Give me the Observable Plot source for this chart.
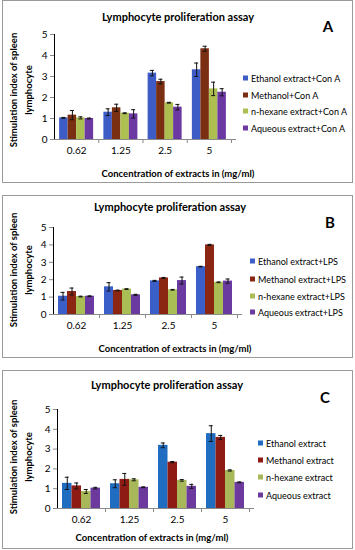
<!DOCTYPE html>
<html>
<head>
<meta charset="utf-8">
<script src="https://cdn.jsdelivr.net/npm/d3@7"></script>
<script src="https://cdn.jsdelivr.net/npm/@observablehq/plot@0.6"></script>
<style>
  html, body { margin: 0; padding: 0; background: #fff; }
  #page { position: relative; width: 355px; height: 550px; overflow: hidden; font-family: Lato, "Open Sans", sans-serif; }
  .panel { position: absolute; border: 1px solid #9a9a9a; box-sizing: border-box; }
  .abs { position: absolute; white-space: nowrap; color: #000; }
  .title { font-weight: bold; font-size: 11px; transform: translate(-50%, -50%); }
  .letter { font-weight: bold; font-size: 15px; transform: translate(-50%, -50%); }
  .xlab { font-weight: bold; font-size: 9.5px; transform: translate(-50%, -50%); }
  .ylab { font-weight: bold; font-size: 9.5px; line-height: 15px; text-align: center; transform: translate(-50%, -50%) rotate(-90deg); }
  .leg { font-size: 9px; transform: translateY(-50%); display: flex; align-items: center; }
  .sw { display: inline-block; width: 5px; height: 5px; margin-right: 3px; }
  svg { position: absolute; overflow: visible; }
</style>
</head>
<body>
<div id="page"></div>
<script>
const concentrations = ["0.62", "1.25", "2.5", "5"];

// Panel A (Con A)
const seriesA = ["Ethanol extract+Con A", "Methanol+Con A", "n-hexane extract+Con A", "Aqueous extract+Con A"];
const aEthanol = [1.03, 1.30, 3.16, 3.32];
const aEthanolErr = [0.02, 0.16, 0.13, 0.32];
const aMethanol = [1.16, 1.51, 2.76, 4.32];
const aMethanolErr = [0.22, 0.17, 0.11, 0.12];
const aHexane = [1.03, 1.25, 1.75, 2.41];
const aHexaneErr = [0.05, 0.02, 0.02, 0.32];
const aAqueous = [1.00, 1.22, 1.54, 2.25];
const aAqueousErr = [0.02, 0.20, 0.13, 0.17];

// Panel B (LPS)
const seriesB = ["Ethanol extract+LPS", "Methanol extract+LPS", "n-hexane extract+LPS", "Aqueous extract+LPS"];
const bEthanol = [1.05, 1.59, 1.93, 2.75];
const bEthanolErr = [0.22, 0.24, 0.03, 0.02];
const bMethanol = [1.32, 1.38, 2.10, 4.00];
const bMethanolErr = [0.20, 0.02, 0.03, 0.03];
const bHexane = [1.03, 1.46, 1.42, 1.85];
const bHexaneErr = [0.02, 0.02, 0.02, 0.02];
const bAqueous = [1.05, 1.13, 1.95, 1.92];
const bAqueousErr = [0.02, 0.03, 0.20, 0.12];

// Panel C (extracts alone)
const seriesC = ["Ethanol extract", "Methanol extract", "n-hexane extract", "Aqueous extract"];
const cEthanol = [1.27, 1.25, 3.19, 3.78];
const cEthanolErr = [0.31, 0.20, 0.12, 0.40];
const cMethanol = [1.14, 1.47, 2.34, 3.59];
const cMethanolErr = [0.15, 0.30, 0.03, 0.10];
const cHexane = [0.86, 1.45, 1.42, 1.92];
const cHexaneErr = [0.10, 0.05, 0.04, 0.03];
const cAqueous = [1.03, 1.07, 1.12, 1.32];
const cAqueousErr = [0.04, 0.02, 0.10, 0.02];

const yTicks = [0, 1, 2, 3, 4, 5];
const titleText = "Lymphocyte proliferation assay";
const xTitle = "Concentration of extracts in (mg/ml)";
const yTitle = ["Stimulation index of spleen", "lymphocyte"];

const page = document.getElementById("page");

function el(cls, text, x, y) {
  const d = document.createElement("div");
  d.className = "abs " + cls;
  d.style.left = x + "px";
  d.style.top = y + "px";
  if (text != null) d.textContent = text;
  page.appendChild(d);
  return d;
}

function panel(cfg) {
  const box = document.createElement("div");
  box.className = "panel";
  Object.assign(box.style, {left: cfg.box[0] + "px", top: cfg.box[1] + "px", width: (cfg.box[2] - cfg.box[0]) + "px", height: (cfg.box[3] - cfg.box[1]) + "px"});
  page.appendChild(box);

  const data = [];
  cfg.values.forEach((vals, i) => vals.forEach((v, j) => data.push({
    series: cfg.series[i], si: i, conc: concentrations[j], value: v, lo: v - cfg.errors[i][j], hi: v + cfg.errors[i][j]
  })));

  const bw = (cfg.xRange[1] - cfg.xRange[0]) / concentrations.length;
  const bar = cfg.barW;
  const gap = (bw - 4 * bar) / 2;
  const marks = [];
  cfg.series.forEach((s, i) => {
    const d = data.filter(r => r.si === i);
    const off = -bw / 2 + gap + (i + 0.5) * bar;
    marks.push(Plot.barY(d, {x: "conc", y: "value", fill: cfg.colors[i], insetLeft: gap + i * bar, insetRight: bw - gap - (i + 1) * bar}));
    marks.push(Plot.ruleX(d, {x: "conc", y1: "lo", y2: "hi", dx: off, stroke: "#111", strokeWidth: 1}));
    marks.push(Plot.tickY(d, {x: "conc", y: "hi", dx: off, insetLeft: bw / 2 - 2, insetRight: bw / 2 - 2, stroke: "#111", strokeWidth: 1}));
    marks.push(Plot.tickY(d, {x: "conc", y: "lo", dx: off, insetLeft: bw / 2 - 2, insetRight: bw / 2 - 2, stroke: "#111", strokeWidth: 1}));
  });
  marks.push(Plot.ruleY([0], {stroke: "#8a8a8a", insetRight: -5}));
  marks.push(Plot.axisX({tickSize: 4, dx: bw / 2, tickFormat: () => "", stroke: "#8a8a8a"}));
  marks.push(Plot.axisX({tickSize: 0, tickPadding: 7, fontSize: 10, fill: "#000"}));

  const svg = Plot.plot({
    width: cfg.svg.width,
    height: cfg.svg.height,
    marginLeft: cfg.xRange[0],
    marginRight: cfg.svg.width - cfg.xRange[1],
    marginTop: cfg.svg.marginTop,
    marginBottom: cfg.svg.marginBottom,
    style: {fontFamily: "Lato, 'Open Sans', sans-serif", fontSize: "10px", color: "#000", background: "transparent"},
    x: {type: "band", domain: concentrations, padding: 0, round: false, label: null},
    y: {domain: [0, 5], ticks: yTicks, tickSize: 4, tickPadding: 3, line: true, label: null, tickFormat: d3.format("d")},
    marks
  });
  svg.style.left = "0px";
  svg.style.top = cfg.svg.top + "px";
  svg.querySelectorAll("[aria-label='y-axis tick'], [aria-label='y-axis line']").forEach(g => g.setAttribute("stroke", "#8a8a8a"));
  page.appendChild(svg);

  el("title", titleText, cfg.title[0], cfg.title[1]);
  el("letter", cfg.letter, cfg.letterPos[0], cfg.letterPos[1]);
  el("xlab", xTitle, cfg.xlab[0], cfg.xlab[1]);
  const yl = el("ylab", null, cfg.ylab[0], cfg.ylab[1]);
  yl.innerHTML = yTitle.join("<br>");

  cfg.series.forEach((s, i) => {
    const row = el("leg", null, cfg.legend.x, cfg.legend.ys[i]);
    const sw = document.createElement("span");
    sw.className = "sw";
    sw.style.background = cfg.colors[i];
    row.appendChild(sw);
    row.appendChild(document.createTextNode(s));
  });
}

panel({
  box: [2, 0, 353, 183],
  series: seriesA,
  values: [aEthanol, aMethanol, aHexane, aAqueous],
  errors: [aEthanolErr, aMethanolErr, aHexaneErr, aAqueousErr],
  colors: ["#3d5cc6", "#7a2e12", "#aebf52", "#6c38a2"],
  xRange: [54, 231],
  barW: 8.5,
  svg: {top: 0, width: 250, height: 160, marginTop: 34, marginBottom: 21},
  title: [178, 16],
  letter: "A", letterPos: [328, 26],
  xlab: [178, 173],
  ylab: [21, 90],
  legend: {x: 243, ys: [78, 95, 111, 128]}
});

panel({
  box: [2, 195, 353, 358],
  series: seriesB,
  values: [bEthanol, bMethanol, bHexane, bAqueous],
  errors: [bEthanolErr, bMethanolErr, bHexaneErr, bAqueousErr],
  colors: ["#3a5fc8", "#8a2612", "#a9bf55", "#6a3aa0"],
  xRange: [53, 237],
  barW: 9,
  svg: {top: 200, width: 255, height: 135, marginTop: 27, marginBottom: 21},
  title: [170, 206],
  letter: "B", letterPos: [330, 222],
  xlab: [175, 348],
  ylab: [21, 270],
  legend: {x: 250, ys: [261, 279, 296, 312]}
});

panel({
  box: [2, 370, 353, 549],
  series: seriesC,
  values: [cEthanol, cMethanol, cHexane, cAqueous],
  errors: [cEthanolErr, cMethanolErr, cHexaneErr, cAqueousErr],
  colors: ["#1f6cc0", "#8e1c14", "#a8b858", "#6b3a9c"],
  xRange: [57, 249],
  barW: 9.5,
  svg: {top: 380, width: 260, height: 150, marginTop: 29, marginBottom: 22},
  title: [167, 384],
  letter: "C", letterPos: [325, 397],
  xlab: [152, 537],
  ylab: [21, 457],
  legend: {x: 258, ys: [443, 460, 477, 495]}
});
</script>
</body>
</html>
